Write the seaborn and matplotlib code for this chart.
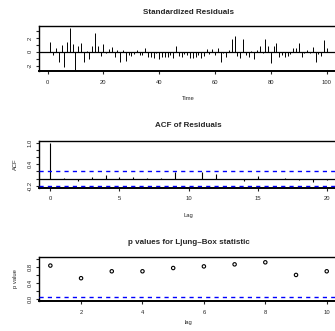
import numpy as np
import pandas as pd
import seaborn as sns
import matplotlib
matplotlib.use('Agg')
import matplotlib.pyplot as plt

# standardized residuals, t = 1..100
residuals = [1.4, -0.5, 0.6, -1.4, 1.05, -2.2, 1.4, 3.5, 1.1, -2.6,
             0.8, 1.3, -1.4, 0.1, -1.0, 0.8, 2.7, 0.9, -0.6, 1.2,
             -0.2, 0.4, 0.7, -0.7, 0.2, -1.4, 0.2, -1.3, -0.4, -0.6,
             -0.3, 0.3, -0.5, -0.5, 0.5, -0.7, -0.8, -0.9, -0.2, -1.1,
             -0.8, -0.7, -0.7, -0.5, -0.9, 0.9, -0.6, -0.7, -0.3, -0.5,
             -0.9, -0.9, -0.7, -0.4, -0.9, -0.6, 0.4, -0.3, 0.4, -0.4,
             0.6, -1.4, -0.1, -0.8, 0.3, 1.9, 2.3, -0.6, -0.9, 1.9,
             -0.5, -0.8, 0.1, -1.0, 0.2, 0.8, -0.2, 1.9, 0.9, -1.6,
             0.8, 1.3, -0.8, -0.5, -0.7, -0.6, -0.3, 0.5, 0.6, 1.3,
             -0.8, -0.2, 0.3, -0.2, 0.7, -1.5, -0.3, -0.6, 1.7, 0.5]
time = list(range(1, len(residuals) + 1))

# ACF of residuals, lags 0..20
acf_lags = list(range(0, 21))
acf_vals = [1.0, 0.02, -0.06, 0.05, 0.09, 0.04, 0.05, 0.03, 0.02, 0.19,
            -0.01, 0.19, 0.13, -0.02, -0.06, 0.07, -0.02, 0.01, -0.05, -0.09, -0.04]
clim = 0.2

# Ljung-Box p values, lags 1..10
lb_lags = list(range(1, 11))
lb_pvals = [0.83, 0.52, 0.69, 0.69, 0.77, 0.81, 0.86, 0.91, 0.60, 0.69]

sns.set_theme(style="ticks")
plt.rcParams['font.family'] = ['Liberation Sans', 'DejaVu Sans']
plt.rcParams['axes.linewidth'] = 1.0
plt.rcParams['xtick.major.size'] = 2.2
plt.rcParams['ytick.major.size'] = 2.2
plt.rcParams['xtick.major.width'] = 0.8
plt.rcParams['ytick.major.width'] = 0.8

TICK_FS = 4.2
LAB_FS = 4.2
TITLE_FS = 5.8
BLUE = '#0000FF'


def pad_range(lo, hi):
    d = (hi - lo) * 0.04
    return lo - d, hi + d


def style_axes(ax, xt, xtl, yt, ytl):
    ax.set_xticks(xt)
    ax.set_xticklabels(xtl, fontsize=TICK_FS)
    ax.set_yticks(yt)
    ax.set_yticklabels(ytl, fontsize=TICK_FS, rotation=90, va='center')
    ax.tick_params(axis='x', pad=4.2)
    ax.tick_params(axis='y', pad=2.5)
    for s in ax.spines.values():
        s.set_visible(True)
        s.set_color('black')
    ax.spines['bottom'].set_linewidth(1.4)


fig = plt.figure(figsize=(3.35, 3.31), dpi=100)
left, width = 0.1173, 0.891

# --- standardized residuals
ax1 = fig.add_axes([left, 0.784, width, 0.1375])
df_res = pd.DataFrame({"time": time, "res": residuals})
ax1.vlines(df_res["time"], 0, df_res["res"], color='black', lw=0.7)
ax1.axhline(0, color='black', lw=0.9)
ax1.set_xlim(*pad_range(min(time), max(time)))
ax1.set_ylim(*pad_range(min(residuals), max(residuals)))
style_axes(ax1, [0, 20, 40, 60, 80, 100], ["0", "20", "40", "60", "80", "100"],
           [-2, -1, 0, 1, 2, 3], ["-2", "", "0", "", "2", ""])
ax1.set_xlabel("Time", fontsize=LAB_FS, labelpad=8)
ax1.set_ylabel("")
ax1.set_title("Standardized Residuals", fontsize=TITLE_FS, fontweight='bold', pad=8.6)

# --- ACF of residuals
ax2 = fig.add_axes([left, 0.4335, width, 0.1405])
df_acf = pd.DataFrame({"lag": acf_lags, "acf": acf_vals})
ax2.vlines(df_acf["lag"], 0, df_acf["acf"], color='black', lw=0.8)
ax2.axhline(0, color='black', lw=0.9)
for c in (clim, -clim):
    ax2.axhline(c, color=BLUE, lw=1.0, ls=(0, (3, 3)), zorder=3)
ax2.set_xlim(*pad_range(0, 20))
ax2.set_ylim(*pad_range(min(min(acf_vals), -clim), max(max(acf_vals), clim)))
style_axes(ax2, [0, 5, 10, 15, 20], ["0", "5", "10", "15", "20"],
           [-0.2, 0.0, 0.2, 0.4, 0.6, 0.8, 1.0], ["-0.2", "", "", "0.4", "", "", "1.0"])
ax2.set_xlabel("Lag", fontsize=LAB_FS, labelpad=8)
ax2.set_ylabel("ACF", fontsize=LAB_FS, labelpad=7)
ax2.set_title("ACF of Residuals", fontsize=TITLE_FS, fontweight='bold', pad=10)

# --- Ljung-Box p values
ax3 = fig.add_axes([left, 0.0906, width, 0.1329])
df_lb = pd.DataFrame({"lag": lb_lags, "p": lb_pvals})
sns.scatterplot(data=df_lb, x="lag", y="p", ax=ax3, marker='o', s=6,
                facecolor='none', edgecolor='black', linewidth=0.8)
ax3.axhline(0.05, color=BLUE, lw=1.0, ls=(0, (3, 3)), zorder=3)
ax3.set_xlim(*pad_range(1, 10))
ax3.set_ylim(*pad_range(0, 1))
style_axes(ax3, [2, 4, 6, 8, 10], ["2", "4", "6", "8", "10"],
           [0.0, 0.2, 0.4, 0.6, 0.8, 1.0], ["0.0", "", "0.4", "", "0.8", ""])
ax3.set_xlabel("lag", fontsize=LAB_FS, labelpad=4)
ax3.set_ylabel("p value", fontsize=LAB_FS, labelpad=7)
ax3.set_title("p values for Ljung\u2013Box statistic", fontsize=TITLE_FS, fontweight='bold', pad=9.4)

fig.savefig("out.png", dpi=100)
plt.close(fig)
